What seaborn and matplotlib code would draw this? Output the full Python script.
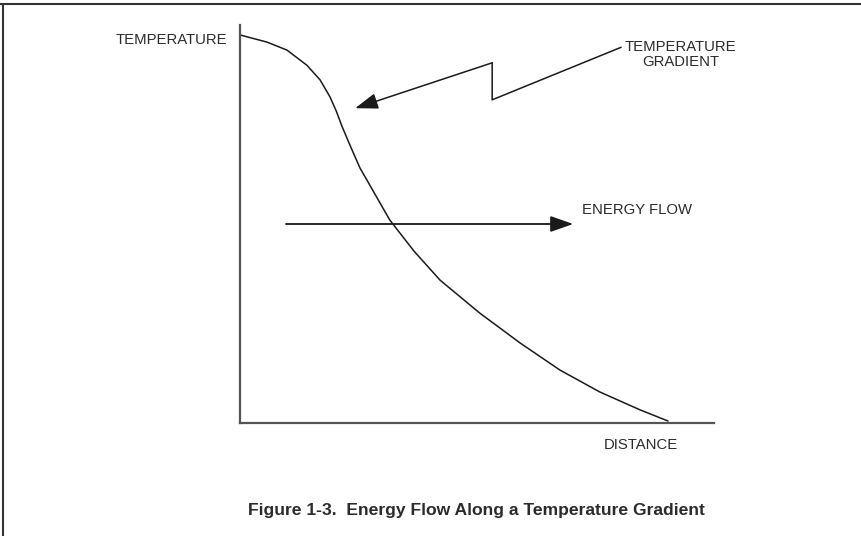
import matplotlib
matplotlib.use('Agg')
import matplotlib.pyplot as plt
from matplotlib.lines import Line2D
import seaborn as sns
import pandas as pd

# Curve (distance and temperature in 0-100 units)
distance = [0.0, 5.7, 9.9, 14.1, 16.9, 19.0, 20.3, 21.5, 23.2, 25.3,
            31.6, 36.7, 42.2, 50.6, 59.1, 67.5, 75.9, 84.4, 90.3]
temperature = [97.5, 95.7, 93.7, 89.9, 86.2, 81.9, 78.4, 74.6, 69.8, 64.1,
               51.0, 43.2, 35.9, 27.6, 20.1, 13.3, 7.8, 3.3, 0.5]

y_label = 'TEMPERATURE'
x_label = 'DISTANCE'
flow_label = 'ENERGY FLOW'
gradient_label = 'TEMPERATURE\nGRADIENT'
caption = 'Figure 1-3.  Energy Flow Along a Temperature Gradient'

df = pd.DataFrame({'distance': distance, 'temperature': temperature})

sns.set_style('white')
plt.rcParams['font.family'] = ['Liberation Sans', 'DejaVu Sans']

text_color = '#2b2b2b'
fs = 10.7

fig = plt.figure(figsize=(8.62, 5.36), dpi=100)
ax = fig.add_axes([240 / 862, (536 - 423) / 536, 474 / 862, 398 / 536])

sns.lineplot(data=df, x='distance', y='temperature', ax=ax, sort=False,
             color='#1a1a1a', linewidth=1.1)

ax.set_xlim(0, 100)
ax.set_ylim(0, 100)
ax.set_xticks([])
ax.set_yticks([])
ax.set_xlabel('')
ax.set_ylabel('')
for side in ['top', 'right']:
    ax.spines[side].set_visible(False)
for side in ['left', 'bottom']:
    ax.spines[side].set_color('#555555')
    ax.spines[side].set_linewidth(1.6)

# axis labels placed as in the drawing
ax.text(-2.7, 96.2, y_label, ha='right', va='center', fontsize=fs, color=text_color)
ax.text(84.6, -5.6, x_label, ha='center', va='center', fontsize=fs, color=text_color)

arrow_kw = dict(arrowstyle='-|>,head_length=1.0,head_width=0.35',
                mutation_scale=14, color='#1a1a1a', shrinkA=0, shrinkB=0)

# energy flow arrow
ax.annotate('', xy=(70.3, 50.0), xytext=(9.7, 50.0),
            arrowprops=dict(lw=1.3, **arrow_kw))
ax.text(72.2, 53.4, flow_label, ha='left', va='center', fontsize=fs, color=text_color)

# zigzag temperature gradient pointer
ax.plot([80.4, 53.2, 53.2], [94.4, 81.2, 90.5], color='#1a1a1a', lw=1.1)
ax.annotate('', xy=(24.3, 79.1), xytext=(53.2, 90.5),
            arrowprops=dict(lw=1.1, **arrow_kw))
ax.text(93.0, 92.6, gradient_label, ha='center', va='center', fontsize=fs,
        color=text_color, linespacing=1.15)

# caption
fig.text(476 / 862, 1 - 510 / 536, caption, ha='center', va='center',
         fontsize=12.6, fontweight='bold', color=text_color)

# frame lines (top and left only)
fig.add_artist(Line2D([0, 1], [1 - 3.5 / 536, 1 - 3.5 / 536], color='#333333', lw=1.5))
fig.add_artist(Line2D([3.5 / 862, 3.5 / 862], [0, 1 - 3.5 / 536], color='#333333', lw=1.5))

fig.savefig('out.png', dpi=100)
plt.close(fig)
